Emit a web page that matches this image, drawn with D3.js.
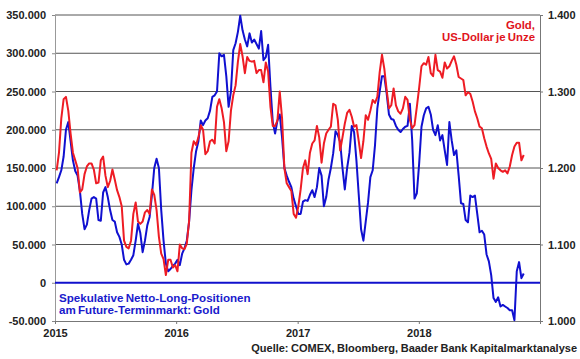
<!DOCTYPE html>
<html>
<head>
<meta charset="utf-8">
<script src="https://cdn.jsdelivr.net/npm/d3@7"></script>
<style>
  body { margin: 0; background: #fff; }
  text { font-family: Arial, "Liberation Sans", sans-serif; font-weight: bold; }
</style>
</head>
<body>
<div id="chart"></div>
<script>
// weekly data, starting with the first week of 2015
const firstWeek = new Date(2015, 0, 6)

// speculative net long positions, 1.000 contracts (left axis)
const positions = [
  130,138,147,165,200,210,185,160,146,140,
  120,90,70,76,95,110,112,110,82,81,
  118,125,112,95,82,80,66,60,50,30,
  24,25,30,36,55,77,65,40,55,75,
  86,115,150,162,150,95,55,25,15,18,
  22,25,30,23,38,45,55,80,121,150,
  172,185,212,206,212,215,225,243,245,250,
  300,296,298,270,230,250,304,313,328,349,
  330,318,309,326,314,318,312,306,329,291,
  295,311,256,210,195,212,220,190,150,140,
  132,125,110,100,90,90,106,108,107,115,
  121,112,125,150,140,100,112,135,150,169,
  198,193,184,150,122,150,170,205,197,160,
  115,70,55,80,105,138,147,180,228,250,
  270,270,248,220,214,213,205,200,197,201,
  204,205,234,186,110,117,156,204,219,228,
  230,220,200,193,206,186,193,173,154,210,
  186,167,173,140,104,103,82,79,114,112,
  114,90,66,68,63,37,28,10,-20,-25,
  -19,-31,-29,-31,-33,-36,-36,-49,15,27,6,12
]

// gold, US-Dollar per ounce (right axis)
const gold = [
  1197,1220,1265,1290,1293,1275,1245,1220,1210,1200,
  1168,1172,1192,1202,1206,1206,1198,1180,1181,1210,
  1215,1190,1175,1183,1198,1185,1171,1162,1150,1105,
  1097,1095,1105,1140,1155,1130,1127,1130,1142,1145,
  1140,1172,1165,1145,1110,1088,1081,1060,1080,1080,
  1070,1073,1065,1100,1095,1094,1101,1131,1220,1235,
  1230,1240,1256,1250,1218,1222,1235,1237,1232,1280,
  1290,1278,1260,1222,1235,1275,1295,1308,1339,1362,
  1346,1324,1345,1340,1339,1340,1324,1328,1328,1312,
  1338,1326,1280,1255,1255,1262,1300,1265,1200,1180,
  1175,1170,1140,1135,1150,1172,1200,1210,1192,1220,
  1232,1236,1255,1240,1207,1232,1245,1250,1254,1284,
  1282,1263,1223,1240,1258,1272,1276,1267,1254,1256,
  1235,1213,1235,1269,1263,1275,1289,1285,1293,1325,
  1348,1330,1302,1278,1282,1304,1282,1274,1271,1278,
  1293,1289,1263,1252,1256,1280,1305,1333,1337,1335,
  1345,1324,1320,1348,1328,1326,1318,1338,1330,1333,
  1340,1346,1335,1319,1317,1315,1295,1299,1297,1287,
  1274,1265,1254,1252,1239,1228,1219,1212,1186,1206,
  1200,1197,1195,1197,1193,1202,1217,1228,1233,1233,1210,1217
]

const leftTicks = [-50, 0, 50, 100, 150, 200, 250, 300, 350]
const rightTicks = [1000, 1100, 1200, 1300, 1400]
const years = [2015, 2016, 2017, 2018]

const width = 580, height = 359
const margin = {top: 15, right: 40, bottom: 38, left: 55}

const de = d3.formatLocale({decimal: ",", thousands: ".", grouping: [3], currency: ["", " €"], minus: "-"})
const fmt = de.format(",")

const svg = d3.select("#chart").append("svg")
    .attr("width", width)
    .attr("height", height)

const xScale = d3.scaleTime()
    .domain([new Date(2015, 0, 1), new Date(2019, 0, 1)])
    .range([margin.left, width - margin.right])

const yLeft = d3.scaleLinear()
    .domain([-50, 350])
    .range([height - margin.bottom, margin.top])

const yRight = d3.scaleLinear()
    .domain([1000, 1400])
    .range([height - margin.bottom, margin.top])

const weekDate = i => d3.timeDay.offset(firstWeek, 7 * i)

// grid
svg.append("g")
    .selectAll("line")
    .data(leftTicks.filter(d => d > 0))
    .join("line")
        .attr("x1", margin.left)
        .attr("x2", width - margin.right)
        .attr("y1", d => yLeft(d))
        .attr("y2", d => yLeft(d))
        .attr("stroke", "#555")
        .attr("stroke-width", 1)

// left axis
const yAxisL = d3.axisLeft(yLeft)
    .tickValues(leftTicks)
    .tickSize(3)
    .tickPadding(6)
    .tickFormat(d => fmt(d * 1000))

const gL = svg.append("g")
    .attr("transform", `translate(${margin.left},0)`)
    .call(yAxisL)
gL.select(".domain").attr("stroke", "#999")
gL.selectAll(".tick line").attr("stroke", "#888")
gL.selectAll("text").attr("font-size", 11).attr("fill", "#222")

// right axis
const yAxisR = d3.axisRight(yRight)
    .tickValues(rightTicks)
    .tickSize(3)
    .tickPadding(5)
    .tickFormat(fmt)

const gR = svg.append("g")
    .attr("transform", `translate(${width - margin.right},0)`)
    .call(yAxisR)
gR.select(".domain").attr("stroke", "#777")
gR.selectAll(".tick line").attr("stroke", "#777")
gR.selectAll("text").attr("font-size", 11).attr("fill", "#222")

// bottom axis
const xAxis = d3.axisBottom(xScale)
    .tickValues(years.map(y => new Date(y, 0, 1)))
    .tickSize(3)
    .tickPadding(5)
    .tickFormat(d3.timeFormat("%Y"))

const gX = svg.append("g")
    .attr("transform", `translate(0,${height - margin.bottom})`)
    .call(xAxis)
gX.select(".domain").attr("stroke", "#777")
gX.selectAll(".tick line").attr("stroke", "#777")
gX.selectAll("text").attr("font-size", 11).attr("fill", "#222")

// zero line
svg.append("line")
    .attr("x1", margin.left)
    .attr("x2", width - margin.right)
    .attr("y1", yLeft(0))
    .attr("y2", yLeft(0))
    .attr("stroke", "#1010cc")
    .attr("stroke-width", 2)

const blueLine = d3.line()
    .x((d, i) => xScale(weekDate(i)))
    .y(d => yLeft(d))

const redLine = d3.line()
    .x((d, i) => xScale(weekDate(i)))
    .y(d => yRight(d))

svg.append("path")
    .datum(positions)
    .attr("fill", "none")
    .attr("stroke", "#1010d0")
    .attr("stroke-width", 2)
    .attr("stroke-linejoin", "round")
    .attr("d", blueLine)

svg.append("path")
    .datum(gold)
    .attr("fill", "none")
    .attr("stroke", "#ee1c24")
    .attr("stroke-width", 2)
    .attr("stroke-linejoin", "round")
    .attr("d", redLine)

// labels
const blueLabel = svg.append("text")
    .attr("x", 59)
    .attr("y", 302)
    .attr("font-size", 11.6)
    .attr("word-spacing", -1)
    .attr("fill", "#1a1acc")
blueLabel.append("tspan").text("Spekulative Netto-Long-Positionen")
blueLabel.append("tspan").attr("x", 59).attr("dy", 11.5).text("am Future-Terminmarkt: Gold")

const redLabel = svg.append("text")
    .attr("x", 535)
    .attr("y", 29)
    .attr("font-size", 11.4)
    .attr("word-spacing", -1)
    .attr("fill", "#e0141c")
    .style("text-anchor", "end")
redLabel.append("tspan").text("Gold,")
redLabel.append("tspan").attr("x", 535).attr("dy", 11.8).text("US-Dollar je Unze")

svg.append("text")
    .attr("x", 577)
    .attr("y", 352)
    .attr("font-size", 11)
    .attr("word-spacing", -0.5)
    .attr("fill", "#222")
    .style("text-anchor", "end")
    .text("Quelle: COMEX, Bloomberg, Baader Bank Kapitalmarktanalyse")
</script>
</body>
</html>
